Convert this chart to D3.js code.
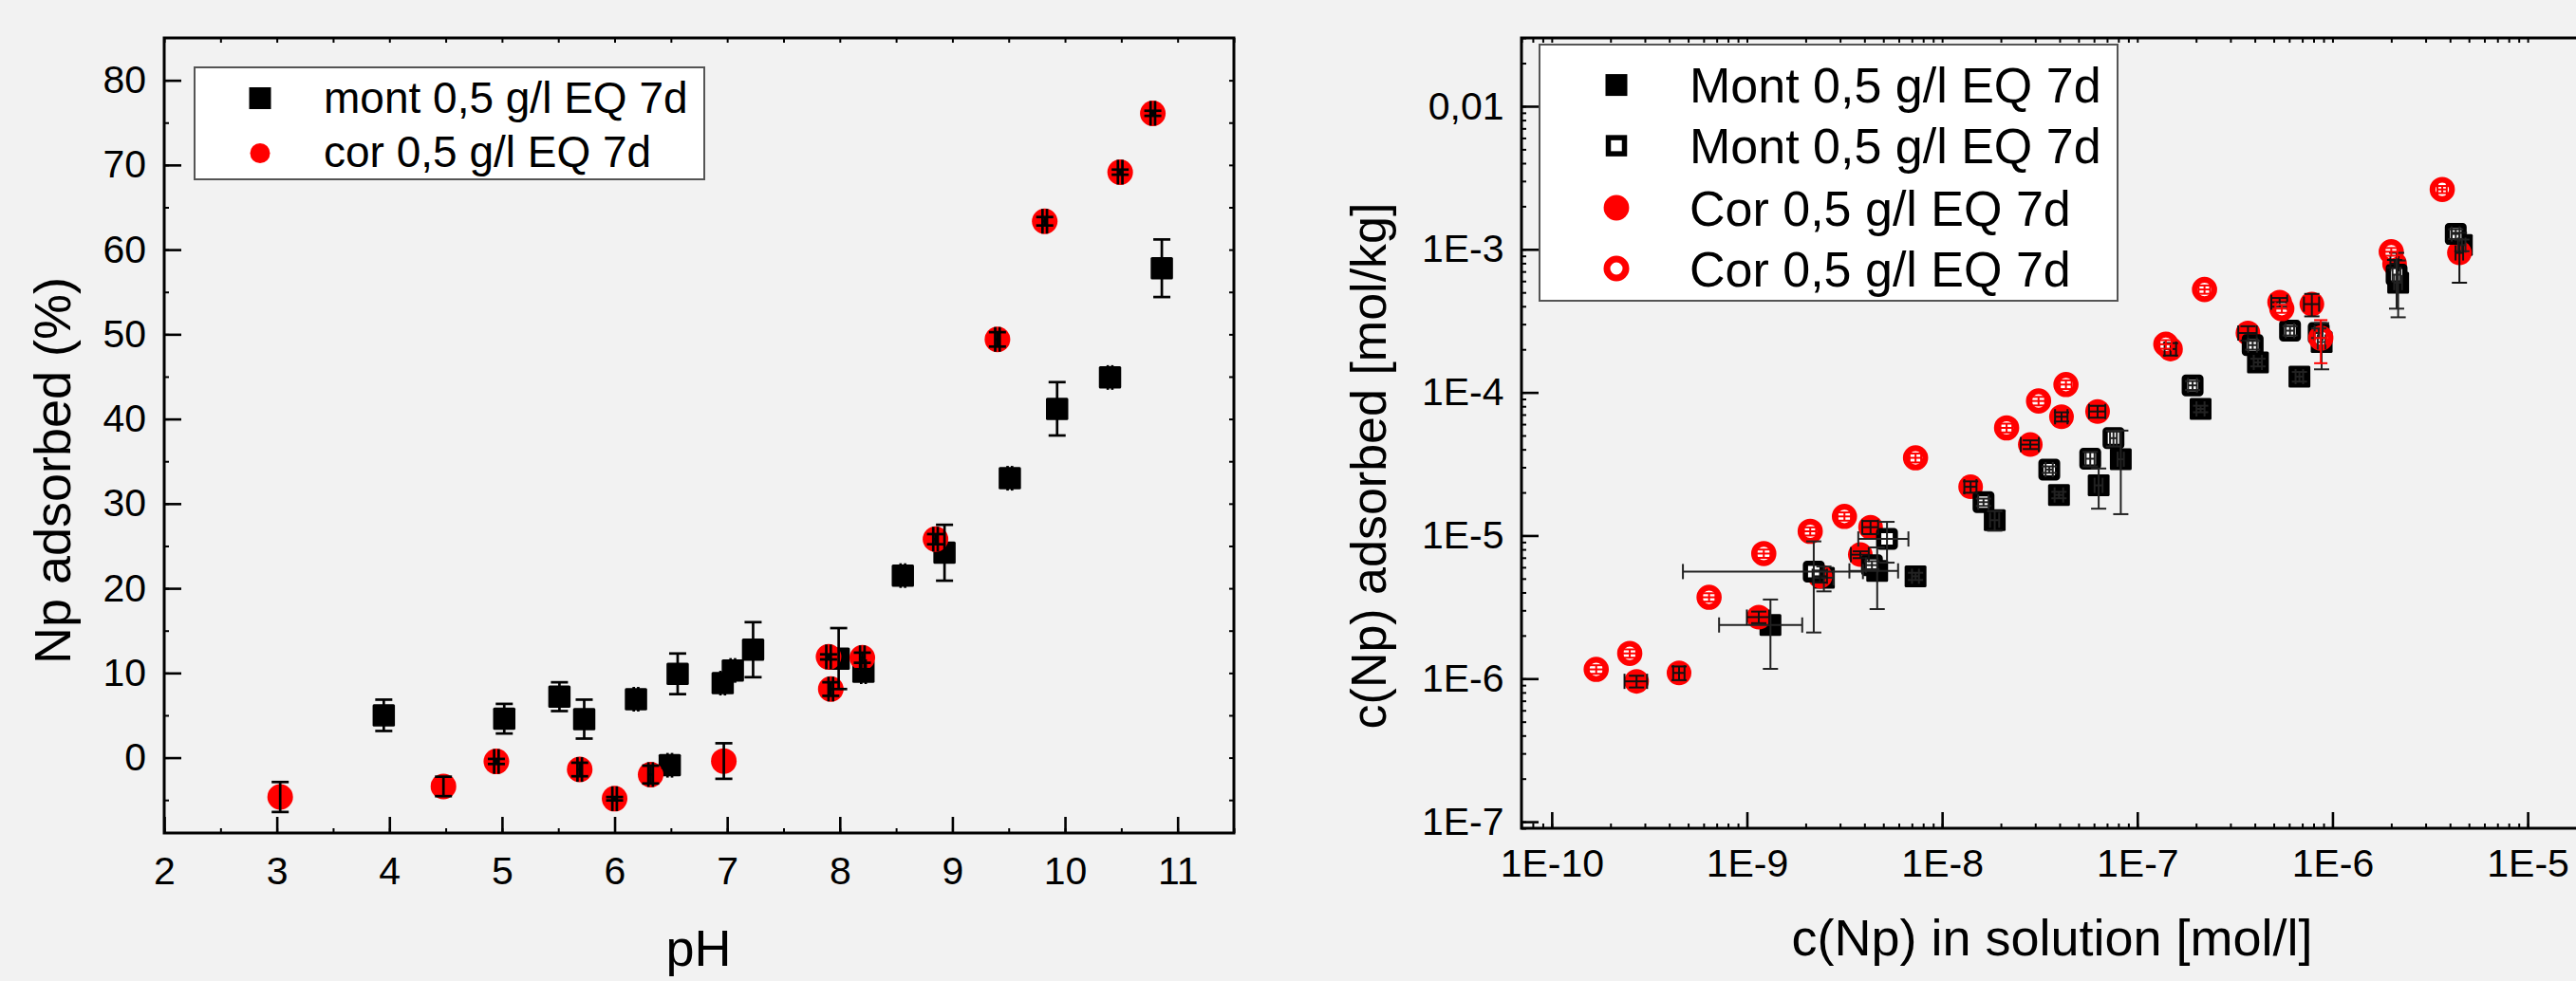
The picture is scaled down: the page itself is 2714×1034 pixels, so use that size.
<!DOCTYPE html>
<html>
<head>
<meta charset="utf-8">
<script src="https://cdn.jsdelivr.net/npm/d3@7"></script>
<style>
  body { margin: 0; background: #f2f2f2; }
  svg { display: block; }
  text { font-family: "Liberation Sans", Arial, sans-serif; fill: #000; }
</style>
</head>
<body>
<div id="chart"></div>
<script>
// ---------- left panel: Np adsorbed (%) vs pH ----------
var montPH     = [3.95, 5.02, 5.51, 5.73, 6.19, 6.49, 6.56, 6.96, 7.05, 7.23, 7.99, 8.21, 8.56, 8.93, 9.51, 9.93, 10.40, 10.86];
var montAds    = [5.0, 4.6, 7.2, 4.55, 6.9, -0.9, 9.9, 8.8, 10.3, 12.75, 11.7, 10.15, 21.5, 24.2, 33.0, 41.2, 44.9, 57.8];
var montAdsErr = [1.85, 1.75, 1.7, 2.3, 0.3, 0.3, 2.4, 0.3, 0.3, 3.25, 3.6, 0.3, 0.3, 3.3, 0.3, 3.15, 0.3, 3.4];
var montPHErr  = [0, 0, 0, 0, 0.02, 0.02, 0, 0.02, 0.02, 0, 0, 0.02, 0.02, 0, 0.02, 0, 0.02, 0];

var corPH      = [3.03, 4.48, 4.95, 5.69, 6.0, 6.32, 6.97, 7.9, 7.92, 8.2, 8.85, 9.40, 9.82, 10.49, 10.78];
var corAds     = [-4.65, -3.4, -0.45, -1.4, -4.85, -2.0, -0.4, 11.9, 8.1, 11.8, 25.8, 49.4, 63.35, 69.15, 76.1];
var corAdsErr  = [1.77, 1.15, 0.3, 0.8, 0.2, 1.05, 2.1, 0.3, 0.8, 0.6, 0.6, 0.85, 0.5, 0.3, 0.3];
var corPHErr   = [0, 0, 0.02, 0.02, 0.02, 0.02, 0, 0.02, 0.02, 0.02, 0.02, 0.02, 0.02, 0.02, 0.02];

var phTicks  = [2, 3, 4, 5, 6, 7, 8, 9, 10, 11];
var adsTicks = [0, 10, 20, 30, 40, 50, 60, 70, 80];
var legendLeft = ["mont 0,5 g/l EQ 7d", "cor 0,5 g/l EQ 7d"];

// ---------- right panel: c(Np) adsorbed vs c(Np) in solution ----------
var montSolX    = [1.32e-9, 2.48e-9, 4.65e-9, 7.31e-9, 1.86e-8, 3.97e-8, 6.34e-8, 8.23e-8, 2.11e-7, 4.15e-7, 6.77e-7, 8.8e-7, 2.17e-6, 4.6e-6];
var montSolY    = [2.37e-6, 5.07e-6, 5.66e-6, 5.19e-6, 1.28e-5, 1.92e-5, 2.24e-5, 3.41e-5, 7.67e-5, 1.62e-4, 1.29e-4, 2.25e-4, 5.85e-4, 1.07e-3];
var montSolXErr = [0.6e-9, 0.3e-9, 1.3e-9, 0.3e-9, 0.1e-8, 0.2e-8, 0.3e-8, 0.3e-8, 0.1e-7, 0.2e-7, 0.3e-7, 0.4e-7, 0.1e-6, 0.2e-6];
var montSolYErr = [1.2e-6, 1.0e-6, 2.6e-6, 0.3e-6, 0.2e-5, 0.1e-5, 0.7e-5, 2.0e-5, 0.4e-5, 0.1e-4, 0.1e-4, 0.8e-4, 2.5e-4, 0.1e-3];

var montOpX    = [2.20e-9, 4.37e-9, 5.22e-9, 1.63e-8, 3.54e-8, 5.74e-8, 7.55e-8, 1.92e-7, 3.90e-7, 6.06e-7, 8.5e-7, 2.13e-6, 4.28e-6];
var montOpY    = [5.60e-6, 6.21e-6, 9.46e-6, 1.71e-5, 2.89e-5, 3.44e-5, 4.79e-5, 1.12e-4, 2.14e-4, 2.70e-4, 2.6e-4, 6.65e-4, 1.28e-3];
var montOpXErr = [1.73e-9, 0.3e-9, 1.5e-9, 0.1e-8, 0.15e-8, 0.3e-8, 0.3e-8, 0.1e-7, 0.2e-7, 0.3e-7, 0.4e-7, 0.1e-6, 0.2e-6];
var montOpYErr = [3.5e-6, 0.4e-6, 3.0e-6, 0.1e-5, 0.15e-5, 0.4e-5, 0.6e-5, 0.08e-4, 0.15e-4, 0.2e-4, 0.2e-4, 2.8e-4, 0.1e-3];

var corSolX    = [2.72e-10, 4.49e-10, 1.15e-9, 2.37e-9, 3.81e-9, 4.30e-9, 1.40e-8, 2.83e-8, 4.09e-8, 6.26e-8, 1.48e-7, 3.69e-7, 5.36e-7, 7.84e-7, 2.08e-6, 4.47e-6];
var corSolY    = [9.57e-7, 1.096e-6, 2.69e-6, 5.19e-6, 7.35e-6, 1.143e-5, 2.19e-5, 4.32e-5, 6.76e-5, 7.36e-5, 2.01e-4, 2.60e-4, 4.27e-4, 4.14e-4, 7.93e-4, 9.44e-4];
var corSolXErr = [0.36e-10, 0.3e-10, 0.15e-9, 0.2e-9, 0.4e-9, 0.4e-9, 0.1e-8, 0.3e-8, 0.3e-8, 0.6e-8, 0.1e-7, 0.4e-7, 0.5e-7, 0.7e-7, 0.1e-6, 0.2e-6];
var corSolYErr = [0.09e-6, 0.12e-6, 0.25e-6, 0.5e-6, 0.4e-6, 0.12e-5, 0.2e-5, 0.3e-5, 0.5e-5, 0.7e-5, 0.2e-4, 0.3e-4, 0.3e-4, 0.74e-4, 0.5e-4, 3.6e-4];

var corOpX    = [1.69e-10, 2.51e-10, 6.40e-10, 1.22e-9, 2.11e-9, 3.16e-9, 7.31e-9, 2.14e-8, 3.12e-8, 4.31e-8, 1.40e-7, 2.21e-7, 5.50e-7, 8.71e-7, 2.00e-6, 3.65e-6];
var corOpY    = [1.16e-6, 1.50e-6, 3.70e-6, 7.48e-6, 1.07e-5, 1.36e-5, 3.49e-5, 5.65e-5, 8.71e-5, 1.135e-4, 2.17e-4, 5.24e-4, 3.85e-4, 2.40e-4, 9.62e-4, 2.62e-3];
var corOpXErr = [0.15e-10, 0.2e-10, 0.5e-10, 0.1e-9, 0.15e-9, 0.25e-9, 0.5e-9, 0.15e-8, 0.25e-8, 0.3e-8, 0.1e-7, 0.15e-7, 0.4e-7, 0.6e-7, 0.15e-6, 0.2e-6];
var corOpYErr = [0.08e-6, 0.1e-6, 0.25e-6, 0.5e-6, 0.7e-6, 0.09e-5, 0.25e-5, 0.4e-5, 0.6e-5, 0.08e-4, 0.15e-4, 0.35e-4, 0.25e-4, 0.8e-4, 0.6e-4, 0.15e-3];

var concTicks      = [1e-10, 1e-9, 1e-8, 1e-7, 1e-6, 1e-5];
var concTickLabels = ["1E-10", "1E-9", "1E-8", "1E-7", "1E-6", "1E-5"];
var sorbTicks      = [1e-7, 1e-6, 1e-5, 1e-4, 1e-3, 1e-2];
var sorbTickLabels = ["1E-7", "1E-6", "1E-5", "1E-4", "1E-3", "0,01"];
var legendRight = ["Mont 0,5 g/l EQ 7d", "Mont 0,5 g/l EQ 7d", "Cor 0,5 g/l EQ 7d", "Cor 0,5 g/l EQ 7d"];

var RED = "#ff0000";

var svg = d3.select("#chart").append("svg").attr("width", 2714).attr("height", 1034);
svg.append("rect").attr("width", 2714).attr("height", 1034).attr("fill", "#f2f2f2");

function zip(xs, ys, xe, ye) {
    return xs.map(function (x, i) { return { x: x, y: ys[i], xe: xe[i], ye: ye[i] }; });
}

// error bars: vertical whisker with horizontal caps, horizontal whisker with vertical caps
function errorBars(g, pts, xs, ys, color, lw, capW, capH) {
    var eb = g.append("g").attr("stroke", color).attr("stroke-width", lw).attr("fill", "none");
    var yMin = ys.domain()[0], xMin = xs.domain()[0];
    pts.forEach(function (d) {
        var cx = xs(d.x), cy = ys(d.y);
        if (d.ye > 0) {
            var lo = ys(Math.max(d.y - d.ye, yMin)), hi = ys(d.y + d.ye);
            eb.append("line").attr("x1", cx).attr("x2", cx).attr("y1", lo).attr("y2", hi);
            eb.append("line").attr("x1", cx - capW / 2).attr("x2", cx + capW / 2).attr("y1", lo).attr("y2", lo);
            eb.append("line").attr("x1", cx - capW / 2).attr("x2", cx + capW / 2).attr("y1", hi).attr("y2", hi);
        }
        if (d.xe > 0) {
            var l = xs(Math.max(d.x - d.xe, xMin)), r = xs(d.x + d.xe);
            eb.append("line").attr("x1", l).attr("x2", r).attr("y1", cy).attr("y2", cy);
            eb.append("line").attr("x1", l).attr("x2", l).attr("y1", cy - capH / 2).attr("y2", cy + capH / 2);
            eb.append("line").attr("x1", r).attr("x2", r).attr("y1", cy - capH / 2).attr("y2", cy + capH / 2);
        }
    });
}

function squares(g, pts, xs, ys, side, fill, stroke, sw) {
    g.append("g").selectAll("rect").data(pts).enter().append("rect")
        .attr("x", function (d) { return xs(d.x) - side / 2; })
        .attr("y", function (d) { return ys(d.y) - side / 2; })
        .attr("width", side).attr("height", side).attr("rx", 1.5)
        .attr("fill", fill).attr("stroke", stroke).attr("stroke-width", sw);
}

function circles(g, pts, xs, ys, r, fill, stroke, sw) {
    g.append("g").selectAll("circle").data(pts).enter().append("circle")
        .attr("cx", function (d) { return xs(d.x); })
        .attr("cy", function (d) { return ys(d.y); })
        .attr("r", r).attr("fill", fill).attr("stroke", stroke).attr("stroke-width", sw);
}

function styleAxis(sel, fs, sw) {
    sel.select(".domain").remove();
    sel.selectAll(".tick line").attr("stroke", "#000").attr("stroke-width", sw);
    sel.selectAll("text").style("font-size", fs + "px").style("font-family", "'Liberation Sans', Arial, sans-serif").attr("fill", "#000");
}

// ================= LEFT PANEL =================
var xPH = d3.scaleLinear().domain([2, 11.5]).range([173, 1300]);
var yAds = d3.scaleLinear().domain([-8.9, 85]).range([878, 40]);
var left = svg.append("g");

var minorPH = d3.range(2, 11.51, 0.5);
var minorAds = d3.range(-5, 85, 5);

// minor ticks on all four sides
left.append("g").attr("transform", "translate(0,878)").call(d3.axisBottom(xPH).tickValues(minorPH).tickSize(-5).tickFormat(""))
    .call(styleAxis, 41, 2);
left.append("g").attr("transform", "translate(0,40)").call(d3.axisTop(xPH).tickValues(minorPH).tickSize(-5).tickFormat(""))
    .call(styleAxis, 41, 2);
left.append("g").attr("transform", "translate(173,0)").call(d3.axisLeft(yAds).tickValues(minorAds).tickSize(-5).tickFormat(""))
    .call(styleAxis, 41, 2);
left.append("g").attr("transform", "translate(1300,0)").call(d3.axisRight(yAds).tickValues(minorAds).tickSize(-5).tickFormat(""))
    .call(styleAxis, 41, 2);

// major ticks and labels
left.append("g").attr("transform", "translate(0,878)")
    .call(d3.axisBottom(xPH).tickValues(phTicks).tickSizeInner(-17).tickSizeOuter(0).tickPadding(25).tickFormat(d3.format("d")))
    .call(styleAxis, 41, 2.6);
left.append("g").attr("transform", "translate(173,0)")
    .call(d3.axisLeft(yAds).tickValues(adsTicks).tickSizeInner(-18).tickSizeOuter(0).tickPadding(19).tickFormat(d3.format("d")))
    .call(styleAxis, 41, 2.6);

left.append("rect").attr("x", 173).attr("y", 40).attr("width", 1300 - 173).attr("height", 878 - 40)
    .attr("fill", "none").attr("stroke", "#000").attr("stroke-width", 3);

var montPts = zip(montPH, montAds, montPHErr, montAdsErr);
var corPts = zip(corPH, corAds, corPHErr, corAdsErr);
squares(left, montPts, xPH, yAds, 23.5, "#000", "none", 0);
circles(left, corPts, xPH, yAds, 13.5, RED, "none", 0);
errorBars(left, montPts, xPH, yAds, "#000", 2.7, 18, 26);
errorBars(left, corPts, xPH, yAds, "#000", 2.7, 18, 26);

// axis titles
left.append("text").attr("x", 736).attr("y", 1018).attr("text-anchor", "middle").style("font-size", "54px").text("pH");
left.append("text").attr("transform", "translate(74,496) rotate(-90)").attr("text-anchor", "middle")
    .style("font-size", "54px").text("Np adsorbed (%)");

// legend
left.append("rect").attr("x", 205).attr("y", 71).attr("width", 742 - 205).attr("height", 189 - 71)
    .attr("fill", "#fff").attr("stroke", "#555").attr("stroke-width", 2);
left.append("rect").attr("x", 274 - 11.5).attr("y", 103.5 - 11.5).attr("width", 23).attr("height", 23).attr("fill", "#000");
left.append("circle").attr("cx", 274).attr("cy", 161.5).attr("r", 10.5).attr("fill", RED);
legendLeft.forEach(function (t, i) {
    left.append("text").attr("x", 341).attr("y", [118.5, 176][i]).style("font-size", "46px").text(t);
});

// ================= RIGHT PANEL =================
var xC = d3.scaleLog().domain([7e-11, 2e-5]).range([1603, 2725]);
var yC = d3.scaleLog().domain([9e-8, 0.03]).range([873, 40]);
var right = svg.append("g");

var minorC = xC.ticks().filter(function (v) { return v >= 7e-11 && v <= 2e-5; });
var minorS = yC.ticks().filter(function (v) { return v >= 9e-8 && v <= 0.03; });

right.append("g").attr("transform", "translate(0,873)").call(d3.axisBottom(xC).tickValues(minorC).tickSize(-5).tickFormat(""))
    .call(styleAxis, 41, 2);
right.append("g").attr("transform", "translate(0,40)").call(d3.axisTop(xC).tickValues(minorC).tickSize(-5).tickFormat(""))
    .call(styleAxis, 41, 2);
right.append("g").attr("transform", "translate(1603,0)").call(d3.axisLeft(yC).tickValues(minorS).tickSize(-5).tickFormat(""))
    .call(styleAxis, 41, 2);

right.append("g").attr("transform", "translate(0,873)")
    .call(d3.axisBottom(xC).tickValues(concTicks).tickSizeInner(-17).tickSizeOuter(0).tickPadding(22)
        .tickFormat(function (d, i) { return concTickLabels[i]; }))
    .call(styleAxis, 41, 2.6);
right.append("g").attr("transform", "translate(1603,0)")
    .call(d3.axisLeft(yC).tickValues(sorbTicks).tickSizeInner(-18).tickSizeOuter(0).tickPadding(18.5)
        .tickFormat(function (d, i) { return sorbTickLabels[i]; }))
    .call(styleAxis, 41, 2.6);

right.append("rect").attr("x", 1603).attr("y", 40).attr("width", 2725 - 1603).attr("height", 873 - 40)
    .attr("fill", "none").attr("stroke", "#000").attr("stroke-width", 3);

var montSolPts = zip(montSolX, montSolY, montSolXErr, montSolYErr);
var corSolPts = zip(corSolX, corSolY, corSolXErr, corSolYErr);
var montOpPts = zip(montOpX, montOpY, montOpXErr, montOpYErr);
var corOpPts = zip(corOpX, corOpY, corOpXErr, corOpYErr);

squares(right, montSolPts, xC, yC, 23, "#000", "none", 0);
circles(right, corSolPts, xC, yC, 13, RED, "none", 0);
squares(right, montOpPts, xC, yC, 17.5, "#fff", "#000", 5.5);
circles(right, corOpPts, xC, yC, 10.2, "#fff", RED, 6.2);

errorBars(right, montSolPts, xC, yC, "#222", 2, 16, 16);
errorBars(right, corSolPts, xC, yC, "#111", 2, 16, 16);
errorBars(right, montOpPts, xC, yC, "#222", 2, 16, 16);
errorBars(right, corOpPts, xC, yC, RED, 2, 14, 14);

right.append("text").attr("x", 2162).attr("y", 1007).attr("text-anchor", "middle").style("font-size", "54px")
    .text("c(Np) in solution [mol/l]");
right.append("text").attr("transform", "translate(1460,491) rotate(-90)").attr("text-anchor", "middle")
    .style("font-size", "52px").text("c(Np) adsorbed [mol/kg]");

// legend
right.append("rect").attr("x", 1622).attr("y", 47).attr("width", 2231 - 1622).attr("height", 317 - 47)
    .attr("fill", "#fff").attr("stroke", "#555").attr("stroke-width", 2);
var legY = [89.6, 153.6, 219, 283];
right.append("rect").attr("x", 1703 - 11.5).attr("y", legY[0] - 11.5).attr("width", 23).attr("height", 23).attr("fill", "#000");
right.append("rect").attr("x", 1703 - 8.5).attr("y", legY[1] - 8.5).attr("width", 17).attr("height", 17)
    .attr("fill", "#fff").attr("stroke", "#000").attr("stroke-width", 5.5);
right.append("circle").attr("cx", 1703).attr("cy", legY[2]).attr("r", 13.4).attr("fill", RED);
right.append("circle").attr("cx", 1703).attr("cy", legY[3]).attr("r", 10).attr("fill", "#fff").attr("stroke", RED).attr("stroke-width", 7);
legendRight.forEach(function (t, i) {
    right.append("text").attr("x", 1780).attr("y", legY[i] + 18.5).style("font-size", "52px").text(t);
});
</script>
</body>
</html>
